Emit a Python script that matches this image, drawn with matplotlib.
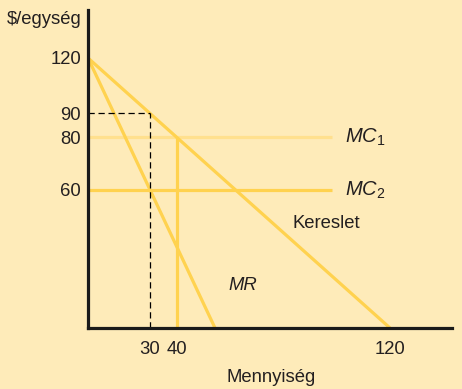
import numpy as np
import matplotlib
matplotlib.use("Agg")
import matplotlib.pyplot as plt

# ---- data ----
demand_q = [0, 120]
demand_p = [120, 0]
mr_q = [0, 60]
mr_p = [120, 0]
mc1_q = [0, 100]
mc1_p = [80, 80]
mc2_q = [0, 100]
mc2_p = [60, 60]
q_opt1 = 40
q_opt2 = 30
p_opt2 = 90
x_ticks = [30, 40, 120]
y_ticks = [60, 80, 90, 120]

plt.rcParams['font.family'] = ['Liberation Sans', 'DejaVu Sans']
plt.rcParams['mathtext.fontset'] = 'custom'
plt.rcParams['mathtext.it'] = 'Liberation Sans:italic'
plt.rcParams['mathtext.rm'] = 'Liberation Sans'

bg = '#FEEBB9'
yellow = '#FFD24F'
light = '#FFE08E'
txt = '#231F20'
fs = 13.3

# schematic (non-uniform) axis scales as in the original drawing
xv = np.array([0, 30, 40, 60, 120, 160])
xp = np.array([0, 62, 89, 127, 302, 402])
yv = np.array([0, 60, 80, 90, 120, 160])
yp = np.array([0, 138, 191, 215, 270, 350])

def fx(v): return np.interp(v, xv, xp)
def ix(p): return np.interp(p, xp, xv)
def fy(v): return np.interp(v, yv, yp)
def iy(p): return np.interp(p, yp, yv)

fig = plt.figure(figsize=(4.62, 3.89), dpi=100, facecolor=bg)
ax = fig.add_axes([88/462, (389-328)/389, (452-88)/462, (328-10)/389], facecolor=bg)
ax.set_xscale('function', functions=(fx, ix))
ax.set_yscale('function', functions=(fy, iy))
ax.set_xlim(0, ix(364))
ax.set_ylim(0, iy(318))

lw = 2.3
ax.plot(mc1_q, mc1_p, color=light, lw=lw, solid_capstyle='butt')
ax.plot(mc2_q, mc2_p, color=yellow, lw=lw, solid_capstyle='butt')
ax.plot(demand_q, demand_p, color=yellow, lw=lw, solid_capstyle='butt')
ax.plot(mr_q, mr_p, color=yellow, lw=lw, solid_capstyle='butt')
ax.plot([q_opt1, q_opt1], [0, mc1_p[0]], color=yellow, lw=lw, solid_capstyle='butt')
ax.plot([0, q_opt2], [p_opt2, p_opt2], color='black', lw=0.9, ls=(0, (5, 3)))
ax.plot([q_opt2, q_opt2], [0, p_opt2], color='black', lw=0.9, ls=(0, (5, 3)))

for s in ['top', 'right']:
    ax.spines[s].set_visible(False)
for s in ['left', 'bottom']:
    ax.spines[s].set_linewidth(2.3)
    ax.spines[s].set_color('#1a1a1a')

ax.set_xticks(x_ticks)
ax.set_xticklabels([str(v) for v in x_ticks])
ax.set_yticks(y_ticks)
ax.set_yticklabels([str(v) for v in y_ticks])
ax.tick_params(length=0, labelsize=fs, labelcolor=txt)
ax.tick_params(axis='x', pad=9)
ax.tick_params(axis='y', pad=5)
ax.minorticks_off()

fig.text(7/462, 1 - 20/389, '$/egység', fontsize=fs, color=txt, va='center', ha='left')
fig.text(271/462, 1 - 377/389, 'Mennyiség', fontsize=fs, color=txt, va='center', ha='center')

ax.text(ix(345 - 88), iy(328 - 137), r'$MC_1$', fontsize=14.5, color=txt, va='center', ha='left')
ax.text(ix(345 - 88), iy(328 - 190), r'$MC_2$', fontsize=14.5, color=txt, va='center', ha='left')
ax.text(ix(292 - 88), iy(328 - 224), 'Kereslet', fontsize=fs, color=txt, va='center', ha='left')
ax.text(ix(228 - 88), iy(328 - 285), 'MR', fontsize=fs, color=txt, va='center', ha='left', style='italic')

fig.savefig('out.png', dpi=100, facecolor=bg)
